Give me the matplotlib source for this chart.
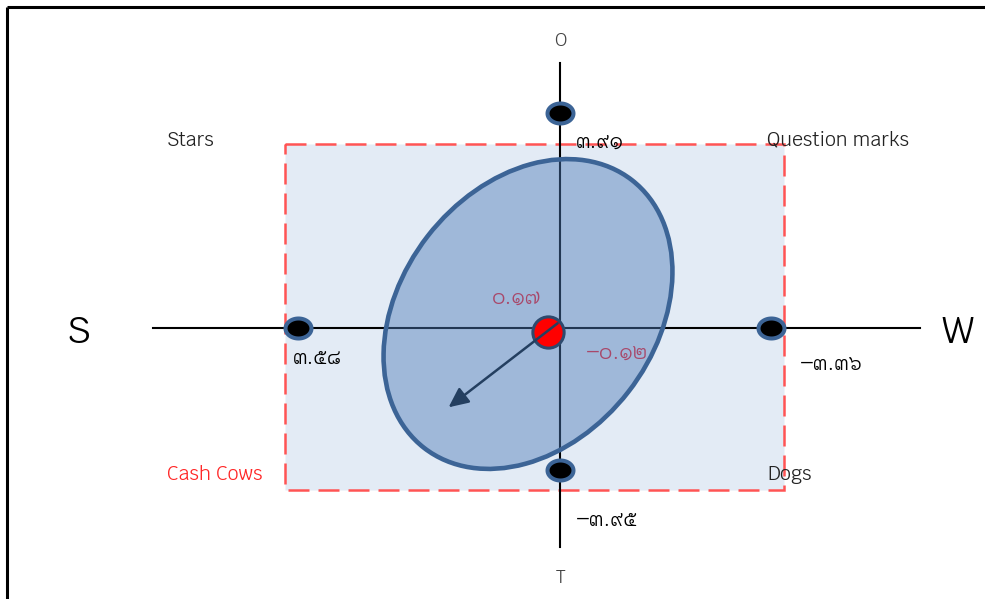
import numpy as np
import matplotlib
matplotlib.use('Agg')
import matplotlib.pyplot as plt
from matplotlib.patches import Rectangle, Ellipse
from matplotlib.path import Path
from matplotlib.transforms import offset_copy

# scores of the four factors (S, W on the horizontal, O, T on the vertical)
factor_names = ['S', 'W', 'O', 'T']
factor_scores = [3.58, -3.36, 3.91, -3.95]
# resulting position
result_x = 0.17
result_y = -0.12
quadrant_names = ['Stars', 'Question marks', 'Cash Cows', 'Dogs']

FONT = ['Krub', 'DejaVu Sans']
THAI = str.maketrans('0123456789-', '๐๑๒๓๔๕๖๗๘๙–')


def thai(v):
    return ('%.2f' % v).translate(THAI)


# the drawing is not to scale: each arm has its own length in pixels
W_PX, H_PX = 985, 599
X0, Y0 = 560, 328
ARM_S, ARM_W, ARM_O, ARM_T = 262, 211, 215, 142
kx_pos = ARM_S / factor_scores[0]
kx_neg = ARM_W / -factor_scores[1]
ky_pos = ARM_O / factor_scores[2]
ky_neg = ARM_T / -factor_scores[3]


def fx(v):
    v = np.asarray(v, dtype=float)
    return np.where(v >= 0, v * kx_pos, v * kx_neg)


def fx_inv(p):
    p = np.asarray(p, dtype=float)
    return np.where(p >= 0, p / kx_pos, p / kx_neg)


def fy(v):
    v = np.asarray(v, dtype=float)
    return np.where(v >= 0, v * ky_pos, v * ky_neg)


def fy_inv(p):
    p = np.asarray(p, dtype=float)
    return np.where(p >= 0, p / ky_pos, p / ky_neg)


fig = plt.figure(figsize=(W_PX / 100, H_PX / 100), dpi=100)

# background layer in pixel coordinates (y downwards)
ax = fig.add_axes([0, 0, 1, 1])
ax.set_xlim(0, W_PX)
ax.set_ylim(H_PX, 0)
ax.axis('off')

ax.plot([7, W_PX], [7, 7], color='black', lw=2.2, solid_capstyle='butt')
ax.plot([7, 7], [7, H_PX], color='black', lw=2.2, solid_capstyle='butt')

ax.add_patch(Rectangle((285, 144), 499, 346, facecolor='#E3EBF5',
                       edgecolor='#FF5454', lw=1.8,
                       linestyle=(0, (8.4, 3.6)), zorder=1))
ax.plot([153, 920], [Y0, Y0], color='black', lw=1.5, zorder=2)
ax.plot([X0, X0], [63, 547], color='black', lw=1.5, zorder=2)
# translucent fill so the axis lines show through dark blue
ax.add_patch(Ellipse((528, 314), 339, 254, angle=-52.2,
                     facecolor=(77 / 255, 123 / 255, 185 / 255, 0.45),
                     edgecolor='#3C6496', lw=3.3, zorder=3))

# axis letters and quadrant names
big = dict(family=FONT, ha='center', va='center')
ax.text(78, 332, factor_names[0], fontsize=27, color='black', **big)
ax.text(957, 332, factor_names[1], fontsize=27, color='black', **big)
ax.text(560, 41, factor_names[2], fontsize=13, color='#444444', **big)
ax.text(560, 578, factor_names[3], fontsize=13, color='#444444', **big)

q = dict(family=FONT, ha='left', va='center', fontsize=14)
ax.text(167, 140, quadrant_names[0], color='#222222', **q)
ax.text(767, 140, quadrant_names[1], color='#222222', **q)
ax.text(167, 474, quadrant_names[2], color='#FF2626', **q)
ax.text(767, 474, quadrant_names[3], color='#222222', **q)

# data layer in score units, mapped through the piecewise scales
av = fig.add_axes([0, 0, 1, 1])
av.patch.set_visible(False)
av.set_xscale('function', functions=(fx, fx_inv))
av.set_yscale('function', functions=(fy, fy_inv))
av.set_xlim(float(fx_inv(X0)), float(fx_inv(X0 - W_PX)))
av.set_ylim(float(fy_inv(Y0 - H_PX)), float(fy_inv(Y0)))
av.axis('off')

t = np.linspace(0, 2 * np.pi, 60)
dot = Path(np.column_stack([np.cos(t), 0.77 * np.sin(t)]), closed=True)

pts_x = [factor_scores[0], factor_scores[1], 0, 0]
pts_y = [0, 0, factor_scores[2], factor_scores[3]]
av.plot(pts_x, pts_y, linestyle='none', marker=dot, markersize=18.7,
        markerfacecolor='black', markeredgecolor='#3C6496',
        markeredgewidth=2.9, zorder=5)

# value labels next to each dot (offsets in pixels)
label_off = [(-5, -29), (29, -35), (16, -28), (16, -49)]
for xv, yv, s, off in zip(pts_x, pts_y, factor_scores, label_off):
    av.annotate(thai(s), xy=(xv, yv), textcoords='offset pixels', xytext=off,
                ha='left', va='center', fontsize=16, color='black', family=FONT)

av.plot([result_x], [result_y], linestyle='none', marker='o', markersize=22.5,
        markerfacecolor='#FF0000', markeredgecolor='#2E4A6E',
        markeredgewidth=2.2, zorder=6)

tail = offset_copy(av.transData, fig=fig, x=10, y=9, units='dots')
av.annotate('', xy=(result_x, result_y), xycoords=tail,
            textcoords='offset pixels', xytext=(-109, -84),
            arrowprops=dict(arrowstyle='<|-, head_length=0.6, head_width=0.28',
                            mutation_scale=20, color='#243F60', lw=1.8,
                            shrinkA=0, shrinkB=0), zorder=7)

mauve = '#A8486A'
av.annotate(thai(result_x), xy=(result_x, result_y), textcoords='offset pixels',
            xytext=(-56, 35), ha='left', va='center', fontsize=16,
            color=mauve, family=FONT)
av.annotate(thai(result_y), xy=(result_x, result_y), textcoords='offset pixels',
            xytext=(38, -20), ha='left', va='center', fontsize=16,
            color=mauve, family=FONT)

fig.savefig('out.png', dpi=100)
